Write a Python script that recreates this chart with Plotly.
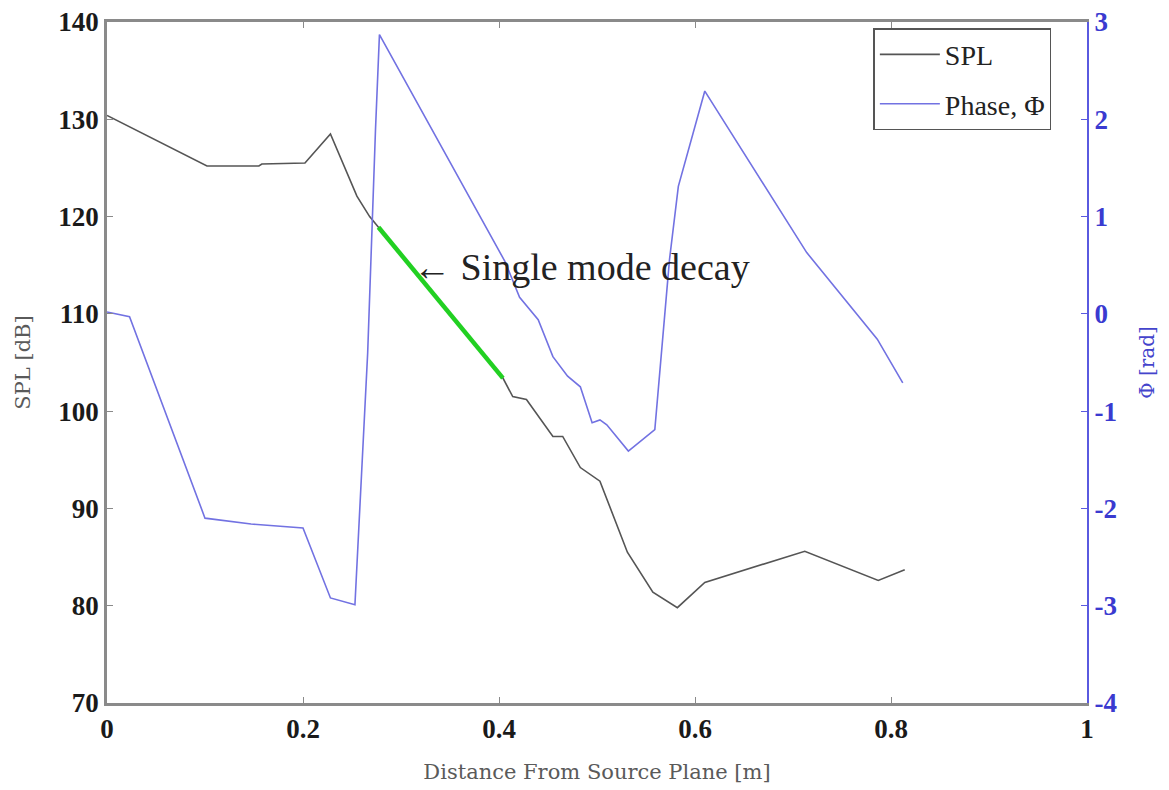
import plotly.graph_objects as go

# SPL curve (dB) vs distance (m)
spl_x = [0.0, 0.102, 0.155, 0.158, 0.202, 0.228, 0.255, 0.268, 0.277, 0.404, 0.414, 0.428,
         0.455, 0.465, 0.483, 0.503, 0.531, 0.557, 0.582, 0.610, 0.712, 0.787, 0.814]
spl_y = [130.4, 125.2, 125.2, 125.4, 125.5, 128.5, 122.1, 120.0, 118.9, 103.4, 101.5, 101.2,
         97.4, 97.4, 94.2, 92.8, 85.5, 81.4, 79.8, 82.4, 85.6, 82.6, 83.7]

# Phase curve (rad) vs distance (m)
ph_x = [0.0, 0.023, 0.100, 0.147, 0.200, 0.228, 0.253, 0.266, 0.274, 0.278, 0.406, 0.421,
        0.440, 0.455, 0.470, 0.483, 0.495, 0.503, 0.510, 0.532, 0.559, 0.574, 0.583, 0.610,
        0.714, 0.786, 0.812]
ph_y = [0.02, -0.03, -2.10, -2.16, -2.20, -2.92, -2.99, -0.40, 1.90, 2.87, 0.54, 0.17,
        -0.06, -0.44, -0.64, -0.75, -1.12, -1.09, -1.14, -1.41, -1.19, 0.56, 1.31, 2.29,
        0.63, -0.26, -0.71]

# Single mode decay segment
decay_x = [0.277, 0.404]
decay_y = [118.9, 103.4]

x_ticks = [0, 0.2, 0.4, 0.6, 0.8, 1]
x_labels = ["0", "0.2", "0.4", "0.6", "0.8", "1"]
spl_ticks = [70, 80, 90, 100, 110, 120, 130, 140]
ph_ticks = [-4, -3, -2, -1, 0, 1, 2, 3]
ph_labels = ["-4", "-3", "-2", "-1", "0", "1", "2", "3"]

SERIF = "Liberation Serif"
SLAB = "DejaVu Serif"
GRAY_AX = "#8a8a8a"
BLUE_AX = "#5a5ae0"

fig = go.Figure()
fig.add_trace(go.Scatter(x=spl_x, y=spl_y, mode="lines", name="SPL", legendgroup="a",
                         line=dict(color="#555555", width=1.6)))
fig.add_trace(go.Scatter(x=ph_x, y=ph_y, mode="lines", name="Phase, \u03a6", legendgroup="b",
                         line=dict(color="#7272e2", width=1.6), yaxis="y2"))
fig.add_trace(go.Scatter(x=decay_x, y=decay_y, mode="lines", showlegend=False,
                         line=dict(color="#22d022", width=4.5)))

fig.add_annotation(x=0.31, y=114.8, xref="x", yref="y", text="\u2190 Single mode decay",
                   showarrow=False, xanchor="left", yanchor="middle",
                   font=dict(family=SERIF, size=38, color="#222222"))

tickfont = dict(family=SERIF, size=27, color="#1a1a1a", weight="bold")

fig.update_layout(
    width=1169, height=790,
    margin=dict(l=99, r=90, t=14, b=95, autoexpand=False),
    paper_bgcolor="white", plot_bgcolor="white",
    font=dict(family=SERIF, color="#222222"),
    xaxis=dict(range=[0, 1], tickvals=x_ticks, ticktext=x_labels,
               ticks="inside", ticklen=6, tickcolor=GRAY_AX,
               showline=True, linecolor=GRAY_AX, linewidth=2.5, mirror="ticks",
               showgrid=False, zeroline=False, ticklabeloverflow="allow", automargin=False,
               tickfont=tickfont,
               title=dict(text="Distance From Source Plane [m]", standoff=22,
                          font=dict(family=SLAB, size=21, color="#5a5a5a"))),
    yaxis=dict(range=[70, 140], tickvals=spl_ticks,
               ticks="inside", ticklen=6, tickcolor=GRAY_AX,
               showline=True, linecolor=GRAY_AX, linewidth=2.5,
               showgrid=False, zeroline=False, ticklabeloverflow="allow", automargin=False,
               tickfont=tickfont,
               title=dict(text="SPL [dB]", standoff=22,
                          font=dict(family=SLAB, size=21, color="#5a5a5a"))),
    yaxis2=dict(range=[-4, 3], tickvals=ph_ticks, ticktext=ph_labels,
                overlaying="y", side="right",
                ticks="inside", ticklen=6, tickcolor=BLUE_AX,
                showline=True, linecolor=BLUE_AX, linewidth=2,
                showgrid=False, zeroline=False, ticklabeloverflow="allow", automargin=False,
                tickfont=dict(family=SERIF, size=27, color="#3a3ad0", weight="bold"),
                title=dict(text="\u03a6 [rad]", standoff=24,
                           font=dict(family=SLAB, size=20, color="#4444cc"))),
    legend=dict(x=0.782, y=0.991, xanchor="left", yanchor="top",
                bgcolor="white", bordercolor="#555555", borderwidth=1.5,
                font=dict(family=SERIF, size=28, color="#222222"),
                tracegroupgap=10, itemwidth=60, entrywidth=200, entrywidthmode="pixels"),
    showlegend=True,
)

fig.write_html("out.html")
